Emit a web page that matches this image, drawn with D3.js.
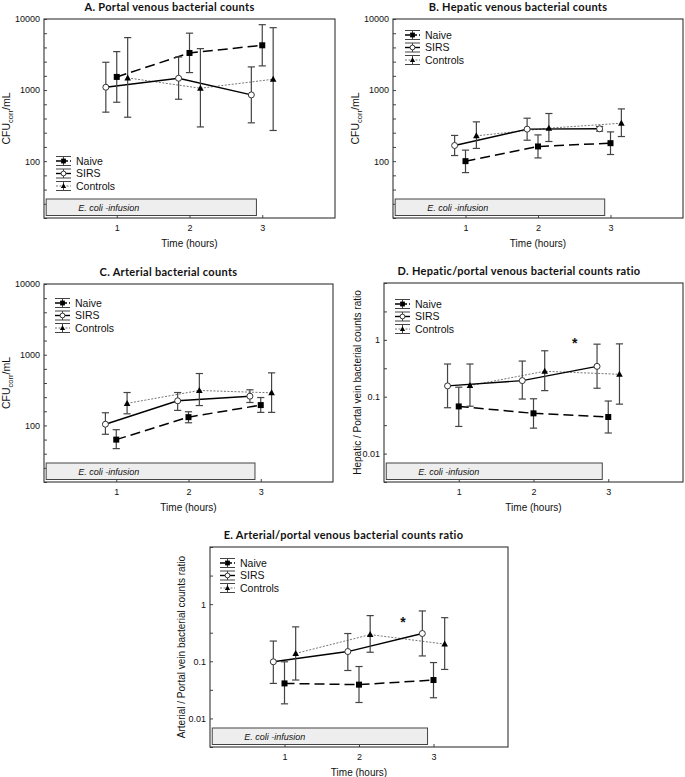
<!DOCTYPE html>
<html><head><meta charset="utf-8">
<script src="https://cdn.jsdelivr.net/npm/d3@7"></script>
<style>
html,body{margin:0;padding:0;background:#fff;}
svg{display:block;}
text{font-family:"Liberation Sans",Arial,sans-serif;fill:#111;}
</style></head>
<body>
<svg id="chart" width="685" height="777"></svg>
<script>
// ---------- DATA: each point = [mean, lower, upper] at times 1,2,3 ----------
const times = [1, 2, 3];
const groups = ["Naive", "SIRS", "Controls"];

const portalNaive    = [[1531, 674, 3475], [3327, 1762, 6320], [4266, 2188, 8318]];
const portalSIRS     = [[1096, 489, 2461], [1466, 743, 2924], [855, 346, 2118]];
const portalControls = [[1483, 415, 5470], [1062, 303, 3829], [1420, 270, 7550]];

const hepaticNaive    = [[100, 69, 143], [161, 111, 234], [179, 124, 258]];
const hepaticSIRS     = [[166, 120, 230], [282, 197, 402], [285, 264, 307]];
const hepaticControls = [[227, 151, 357], [291, 189, 468], [342, 222, 543]];

const arterialNaive    = [[63, 47, 87], [131, 109, 156], [194, 153, 248]];
const arterialSIRS     = [[104, 75, 151], [223, 163, 292], [259, 211, 319]];
const arterialControls = [[205, 146, 292], [312, 191, 542], [289, 153, 554]];

const hepPortNaive    = [[0.0675, 0.030, 0.147], [0.051, 0.028, 0.092], [0.044, 0.023, 0.084]];
const hepPortSIRS     = [[0.155, 0.064, 0.376], [0.192, 0.091, 0.424], [0.342, 0.141, 0.84]];
const hepPortControls = [[0.157, 0.068, 0.376], [0.28, 0.128, 0.643], [0.248, 0.074, 0.85]];

const artPortNaive    = [[0.041, 0.018, 0.098], [0.039, 0.019, 0.081], [0.047, 0.023, 0.095]];
const artPortSIRS     = [[0.098, 0.041, 0.226], [0.148, 0.069, 0.306], [0.306, 0.124, 0.76]];
const artPortControls = [[0.137, 0.047, 0.40], [0.293, 0.144, 0.63], [0.20, 0.072, 0.58]];

const countTicksExp = [1.2, 1.4, 1.6, 1.8, 2, 2.2, 2.4, 2.6, 2.8, 3, 3.2, 3.4, 3.6, 3.8, 4];
const ratioTicksExp = [-2.5, -2, -1.5, -1, -0.5, 0, 0.5, 1];
const countLabels = {2: "100", 3: "1000", 4: "10000"};
const ratioLabels = {"-2": "0.01", "-1": "0.1", "0": "1"};
const xTicks = [1, 2, 3];
const infusion = [0.03, 2.92];
const infusionLabel = "E. coli -infusion";

const panels = [
  {title: "A. Portal venous bacterial counts", box: [44, 19, 335, 218], dom: [1.2, 4], ticks: countTicksExp, labels: countLabels,
   ylabel: "cfu", ylx: 40, data: [portalNaive, portalSIRS, portalControls], legend: [12, 142], star: null},
  {title: "B. Hepatic venous bacterial counts", box: [393, 19, 683, 218], dom: [1.2, 4], ticks: countTicksExp, labels: countLabels,
   ylabel: "cfu", ylx: 40, data: [hepaticNaive, hepaticSIRS, hepaticControls], legend: [12, 16], star: null},
  {title: "C. Arterial bacterial counts", box: [44, 284, 333, 482], dom: [1.2, 4], ticks: countTicksExp, labels: countLabels,
   ylabel: "cfu", ylx: 40, data: [arterialNaive, arterialSIRS, arterialControls], legend: [11, 19], star: null},
  {title: "D. Hepatic/portal venous bacterial counts ratio", box: [384, 283, 683, 482], dom: [-2.5, 1], ticks: ratioTicksExp, labels: ratioLabels,
   ylabel: "Hepatic / Portal vein bacterial counts ratio", ylx: 29, data: [hepPortNaive, hepPortSIRS, hepPortControls], legend: [11, 21], star: [2.55, 0.91]},
  {title: "E. Arterial/portal venous bacterial counts ratio", box: [210, 547, 508, 747], dom: [-2.5, 1], ticks: ratioTicksExp, labels: ratioLabels,
   ylabel: "Arterial / Portal vein bacterial counts ratio", ylx: 31, data: [artPortNaive, artPortSIRS, artPortControls], legend: [10, 16], star: [2.59, 0.51]}
];

const offsets = [0, -0.15, 0.15];
const lineStyle = [
  {stroke: "#000", width: 1.5, dash: "10,5"},
  {stroke: "#000", width: 1.4, dash: null},
  {stroke: "#777", width: 1, dash: "2,1.5"}
];

const svg = d3.select("#chart");

function marker(g, type, cx, cy, s) {
  s = s || 1;
  if (type === 0) {
    g.append("rect").attr("x", cx - 3 * s).attr("y", cy - 3 * s).attr("width", 6 * s).attr("height", 6 * s).attr("fill", "#000");
  } else if (type === 1) {
    g.append("circle").attr("cx", cx).attr("cy", cy).attr("r", 3 * s).attr("fill", "#fff").attr("stroke", "#333").attr("stroke-width", 1);
  } else {
    g.append("path").attr("d", `M${cx},${cy - 3.5 * s}L${cx + 3.3 * s},${cy + 2.5 * s}L${cx - 3.3 * s},${cy + 2.5 * s}Z`).attr("fill", "#000");
  }
}

panels.forEach(p => {
  const [L, T, R, B] = p.box;
  const x = d3.scaleLinear().domain([0, 4]).range([L, R]);
  const y = d3.scaleLog().domain([Math.pow(10, p.dom[0]), Math.pow(10, p.dom[1])]).range([B, T]);
  const g = svg.append("g");

  // title
  const ylabX = L - p.ylx;
  g.append("text").attr("x", (ylabX + R) / 2).attr("y", T - 8).attr("text-anchor", "middle")
    .style("font-family", "Lato, 'Open Sans', sans-serif").style("font-weight", "700").style("font-size", "11px")
    .style("letter-spacing", "0.3px")
    .text(p.title);

  // y axis
  const ya = d3.axisLeft(y).tickValues(p.ticks.map(e => Math.pow(10, e)))
    .tickSizeInner(-3).tickSizeOuter(0).tickPadding(4)
    .tickFormat(v => { const e = Math.round(Math.log10(v) * 10) / 10; return p.labels[String(e)] || ""; });
  const yg = g.append("g").attr("transform", `translate(${L},0)`).call(ya);
  yg.select(".domain").remove();
  yg.selectAll("line").attr("stroke", "#444");
  yg.selectAll("text").style("font-size", "9px").attr("fill", "#111");

  // x axis
  const xa = d3.axisBottom(x).tickValues(xTicks).tickSizeInner(-3).tickSizeOuter(0).tickPadding(7).tickFormat(d3.format("d"));
  const xg = g.append("g").attr("transform", `translate(0,${B})`).call(xa);
  xg.select(".domain").remove();
  xg.selectAll("line").attr("stroke", "#444");
  xg.selectAll("text").style("font-size", "9px").attr("fill", "#111");

  // frame
  g.append("rect").attr("x", L).attr("y", T).attr("width", R - L).attr("height", B - T)
    .attr("fill", "none").attr("stroke", "#333").attr("stroke-width", 1.1);

  // x title
  g.append("text").attr("x", (L + R) / 2).attr("y", B + 29).attr("text-anchor", "middle")
    .style("font-size", "10px").text("Time (hours)");

  // y title
  const yt = g.append("text").attr("transform", `translate(${ylabX + 6},${(T + B) / 2}) rotate(-90)`)
    .attr("text-anchor", "middle").style("font-size", "10px");
  if (p.ylabel === "cfu") {
    yt.style("font-size", "10.5px");
    yt.append("tspan").text("CFU");
    yt.append("tspan").attr("dy", 3).style("font-size", "7.5px").text("corr");
    yt.append("tspan").attr("dy", -3).text("/mL");
  } else {
    yt.text(p.ylabel);
  }

  // infusion box
  g.append("rect").attr("x", x(infusion[0])).attr("y", B - 19).attr("width", x(infusion[1]) - x(infusion[0])).attr("height", 16.5)
    .attr("fill", "#eeeeee").attr("stroke", "#444").attr("stroke-width", 1);
  g.append("text").attr("x", x(infusion[0]) + 32).attr("y", B - 7.5)
    .style("font-size", "9px").style("font-style", "italic").text(infusionLabel);

  // lines (draw controls first)
  [2, 1, 0].forEach(si => {
    const d = p.data[si];
    const ls = lineStyle[si];
    g.append("path")
      .attr("d", d3.line().x((v, i) => x(times[i] + offsets[si])).y(v => y(v[0]))(d))
      .attr("fill", "none").attr("stroke", ls.stroke).attr("stroke-width", ls.width)
      .attr("stroke-dasharray", ls.dash);
  });
  // error bars
  [2, 1, 0].forEach(si => {
    p.data[si].forEach((v, i) => {
      const cx = x(times[i] + offsets[si]);
      const eg = g.append("g").attr("stroke", "#444").attr("stroke-width", 1.2);
      eg.append("line").attr("x1", cx).attr("x2", cx).attr("y1", y(v[1])).attr("y2", y(v[2]));
      eg.append("line").attr("x1", cx - 3.6).attr("x2", cx + 3.6).attr("y1", y(v[1])).attr("y2", y(v[1]));
      eg.append("line").attr("x1", cx - 3.6).attr("x2", cx + 3.6).attr("y1", y(v[2])).attr("y2", y(v[2]));
    });
  });
  // markers
  [2, 1, 0].forEach(si => {
    p.data[si].forEach((v, i) => marker(g, si, x(times[i] + offsets[si]), y(v[0])));
  });

  // star
  if (p.star) {
    g.append("text").attr("x", x(p.star[0])).attr("y", y(p.star[1]) + 6).attr("text-anchor", "middle")
      .style("font-size", "14px").style("font-weight", "700").text("*");
  }

  // legend
  const lx = L + p.legend[0], ly0 = T + p.legend[1];
  groups.forEach((name, si) => {
    const ly = ly0 + si * 12.5;
    const lg = g.append("g");
    const cx = lx + 7.5;
    lg.append("line").attr("x1", lx).attr("x2", lx + 15).attr("y1", ly - 4.5).attr("y2", ly - 4.5).attr("stroke", "#444").attr("stroke-width", 1);
    lg.append("line").attr("x1", lx).attr("x2", lx + 15).attr("y1", ly + 4.5).attr("y2", ly + 4.5).attr("stroke", "#444").attr("stroke-width", 1);
    lg.append("line").attr("x1", cx).attr("x2", cx).attr("y1", ly - 4.5).attr("y2", ly + 4.5).attr("stroke", "#444").attr("stroke-width", 1);
    const ls = lineStyle[si];
    lg.append("line").attr("x1", lx).attr("x2", lx + 15).attr("y1", ly).attr("y2", ly)
      .attr("stroke", ls.stroke).attr("stroke-width", ls.width).attr("stroke-dasharray", si === 0 ? "5,2" : ls.dash);
    marker(lg, si, cx, ly, 0.8);
    lg.append("text").attr("x", lx + 20).attr("y", ly + 3.5).style("font-size", "10.5px").text(name);
  });
});
</script>
</body></html>
